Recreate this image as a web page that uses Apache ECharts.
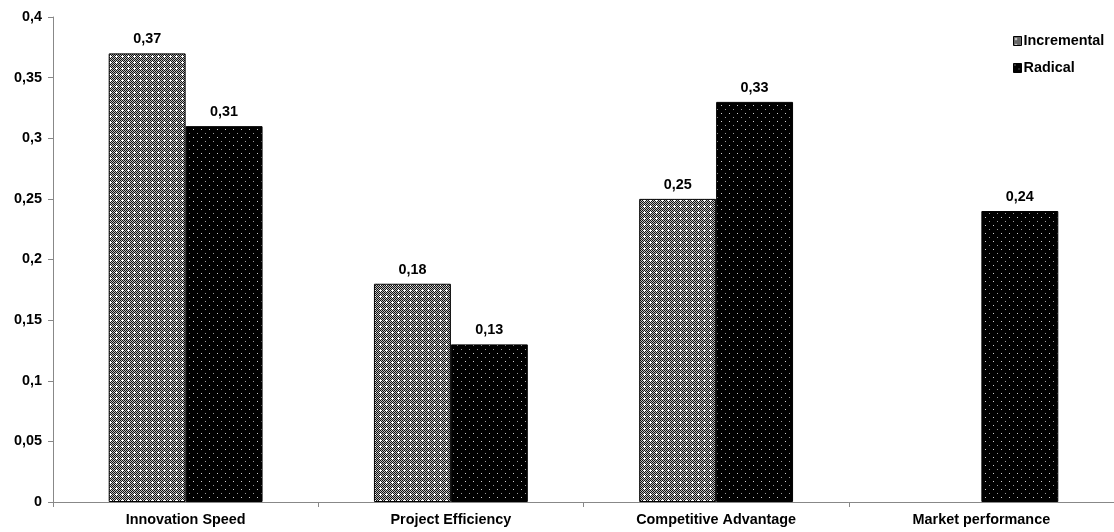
<!DOCTYPE html>
<html>
<head>
<meta charset="utf-8">
<script src="https://cdn.jsdelivr.net/npm/echarts@6/dist/echarts.min.js"></script>
<style>
  html, body { margin: 0; padding: 0; background: #fff; }
  #chart { width: 1114px; height: 532px; }
</style>
</head>
<body>
<div id="chart"></div>
<script>
// Effect sizes by innovation type
const categories = ['Innovation Speed', 'Project Efficiency', 'Competitive Advantage', 'Market performance'];
const incremental = [0.37, 0.18, 0.25, null];
const radical = [0.31, 0.13, 0.33, 0.24];
const yTicks = [0, 0.05, 0.1, 0.15, 0.2, 0.25, 0.3, 0.35, 0.4];

const FONT = 'Liberation Sans, Arial, sans-serif';
const FS = 14.4;

// Fine checker fill with white crosses
function checkerPattern() {
  const c = document.createElement('canvas');
  c.width = 6; c.height = 6;
  const g = c.getContext('2d');
  for (let y = 0; y < 6; y++) {
    for (let x = 0; x < 6; x++) {
      g.fillStyle = ((x + y) % 2 === 0) ? '#111' : '#bdbdbd';
      g.fillRect(x, y, 1, 1);
    }
  }
  g.fillStyle = '#fff';
  g.fillRect(2, 2, 1, 1);
  g.fillRect(1, 2, 1, 1);
  g.fillRect(3, 2, 1, 1);
  g.fillRect(2, 1, 1, 1);
  g.fillRect(2, 3, 1, 1);
  return c;
}

// Black fill with sparse light dots
function dotPattern() {
  const c = document.createElement('canvas');
  c.width = 8; c.height = 8;
  const g = c.getContext('2d');
  g.fillStyle = '#000';
  g.fillRect(0, 0, 8, 8);
  g.fillStyle = '#d0d0d0';
  g.fillRect(1, 1, 1, 1);
  g.fillStyle = '#9a9a9a';
  g.fillRect(5, 5, 1, 1);
  return c;
}

const incFill = { image: checkerPattern(), repeat: 'repeat' };
const radFill = { image: dotPattern(), repeat: 'repeat' };

const fmt = v => String(v).replace('.', ',');
const labelStyle = {
  show: true, position: 'top', distance: 7,
  fontFamily: FONT, fontWeight: 'bold', fontSize: FS, color: '#000',
  formatter: p => p.value == null ? '' : fmt(p.value)
};

const chart = echarts.init(document.getElementById('chart'), null, { renderer: 'canvas' });
chart.setOption({
  animation: false,
  backgroundColor: '#fff',
  grid: { left: 53, right: 0, top: 17, bottom: 30, containLabel: false },
  legend: {
    orient: 'vertical', left: 1008, top: 29, itemGap: 13,
    itemWidth: 8, itemHeight: 9, icon: 'rect',
    textStyle: { fontFamily: FONT, fontWeight: 'bold', fontSize: FS, color: '#000', padding: [0, 0, 0, -3] },
    data: [
      { name: 'Incremental', itemStyle: { color: incFill, borderColor: '#000', borderWidth: 1 } },
      { name: 'Radical', itemStyle: { color: radFill, borderColor: '#000', borderWidth: 1 } }
    ]
  },
  xAxis: {
    type: 'category', data: categories,
    axisLine: { lineStyle: { color: '#888', width: 1 } },
    axisTick: { show: true, length: 5, lineStyle: { color: '#888' }, alignWithLabel: false },
    axisLabel: { fontFamily: FONT, fontWeight: 'bold', fontSize: FS, color: '#000', margin: 11 }
  },
  yAxis: {
    type: 'value', min: 0, max: 0.4, interval: 0.05,
    axisLine: { show: true, lineStyle: { color: '#888', width: 1 } },
    axisTick: { show: true, length: 5, lineStyle: { color: '#888' } },
    splitLine: { show: false },
    axisLabel: {
      fontFamily: FONT, fontWeight: 'bold', fontSize: FS, color: '#000', margin: 11,
      formatter: v => {
        const t = yTicks.find(k => Math.abs(k - v) < 1e-9);
        return fmt(+(t ?? v).toFixed(2));
      }
    }
  },
  series: [
    {
      name: 'Incremental', type: 'bar', data: incremental,
      barGap: '0%', barCategoryGap: '42%',
      itemStyle: { color: incFill, borderColor: '#000', borderWidth: 1 },
      label: labelStyle
    },
    {
      name: 'Radical', type: 'bar', data: radical,
      itemStyle: { color: radFill, borderColor: '#000', borderWidth: 1 },
      label: labelStyle
    }
  ]
});
</script>
</body>
</html>
